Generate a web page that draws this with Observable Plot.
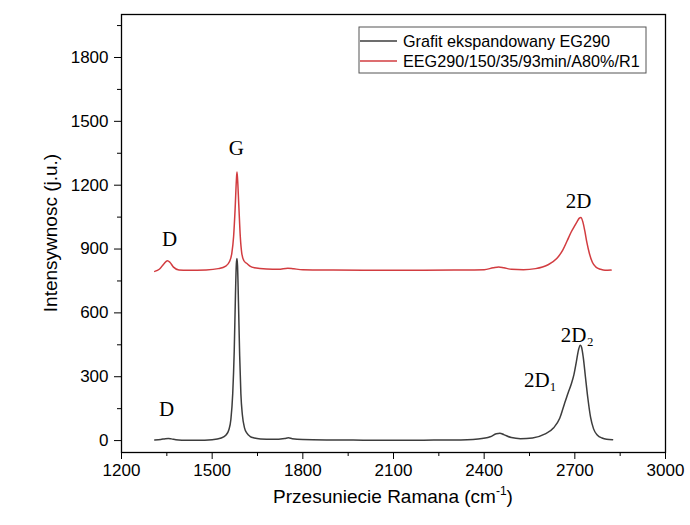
<!DOCTYPE html>
<html><head><meta charset="utf-8">
<script src="https://cdn.jsdelivr.net/npm/d3@7"></script>
<script src="https://cdn.jsdelivr.net/npm/@observablehq/plot@0.6"></script>
<style>body{margin:0;background:#fff}#chart{width:690px;height:525px}</style>
</head><body><div id="chart"></div>
<script>
// Raman shift (cm^-1) and intensity for each series
const egShift = [1310,1330,1345,1355,1365,1380,1400,1450,1500,1530,1545,1555,1562,1568,1573,1577,1580,1582,1584,1587,1591,1595,1600,1607,1615,1625,1640,1660,1700,1740,1752,1765,1800,1900,2000,2100,2200,2300,2380,2420,2440,2452,2465,2490,2520,2560,2600,2630,2650,2665,2678,2688,2697,2705,2712,2718,2722,2728,2735,2743,2752,2762,2775,2790,2805,2825];
const egInt   = [3,5,9,10,8,4,2,1,4,12,25,50,100,220,420,680,830,855,820,650,400,220,120,60,35,20,12,8,6,10,13,9,5,3,2,1,2,3,8,18,32,35,28,14,9,12,30,60,105,170,225,265,310,370,425,448,440,390,300,200,110,55,25,12,6,4];
const eegShift = [1310,1325,1340,1352,1360,1372,1390,1420,1480,1520,1545,1557,1565,1571,1576,1580,1582,1584,1588,1593,1598,1605,1615,1625,1640,1680,1720,1750,1770,1800,1900,2000,2100,2200,2300,2400,2430,2448,2465,2490,2530,2570,2610,2640,2660,2675,2688,2698,2708,2715,2720,2726,2733,2740,2748,2758,2770,2785,2800,2820];
const eegInt   = [795,805,830,845,838,815,802,800,802,808,820,840,880,960,1090,1220,1262,1230,1110,960,880,845,832,820,812,806,805,810,807,803,801,800,800,800,801,803,812,816,812,805,803,808,825,855,895,940,980,1005,1030,1045,1048,1030,985,930,880,838,815,805,800,801];
const seriesNames = ["Grafit ekspandowany EG290", "EEG290/150/35/93min/A80%/R1"];
const seriesColors = ["#3d3d3d", "#d23c40"];
// peak annotations
const annoText  = ["D", "G", "2D", "D", "2D\u2082", "2D\u2081"];
const annoShift = [1359, 1580, 2712, 1349, 2708, 2586];
const annoInt   = [944, 1372, 1125, 146, 493, 282];
// ticks
const xTicks = [1200,1500,1800,2100,2400,2700,3000];
const xMinor = [1350,1650,1950,2250,2550,2850];
const yTicks = [0,300,600,900,1200,1500,1800];
const yMinor = [150,450,750,1050,1350,1650,1950];

const eg = egShift.map((x,i)=>({x, y: egInt[i]}));
const eeg = eegShift.map((x,i)=>({x, y: eegInt[i]}));
const annos = annoText.map((t,i)=>({t, x: annoShift[i], y: annoInt[i]}));

const plot = Plot.plot({
  width: 690, height: 525,
  marginLeft: 121, marginRight: 25, marginTop: 14, marginBottom: 73,
  x: {domain: [1200, 3000]},
  y: {domain: [-56, 2002]},
  style: {fontFamily: "'Liberation Sans', Arial, sans-serif", fontSize: "17px", color: "#000", background: "#fff"},
  marks: [
    Plot.axisX({ticks: xTicks, tickSize: 7, tickPadding: 4, label: null, tickFormat: d => String(d), fontSize: 17}),
    Plot.axisX({ticks: xMinor, tickSize: 4, text: null, label: null}),
    Plot.axisY({ticks: yTicks, tickSize: 7, tickPadding: 6, label: null, tickFormat: d => String(d), fontSize: 17}),
    Plot.axisY({ticks: yMinor, tickSize: 4, text: null, label: null}),
    Plot.line(eg, {x: "x", y: "y", stroke: seriesColors[0], strokeWidth: 1.5, curve: "monotone-x"}),
    Plot.line(eeg, {x: "x", y: "y", stroke: seriesColors[1], strokeWidth: 1.5, curve: "monotone-x"}),
    Plot.text(annos, {x: "x", y: "y", text: "t", fontFamily: "'Liberation Serif', 'Times New Roman', serif", fontSize: 21, fill: "#000"}),
    Plot.frame({stroke: "#000", strokeWidth: 1.3})
  ]
});
document.getElementById("chart").appendChild(plot);

const svg = d3.select(plot);
// axis titles
svg.append("text")
  .attr("transform", "translate(52,233) rotate(-90)")
  .attr("text-anchor", "middle").attr("dominant-baseline", "middle")
  .style("font-family", "'Liberation Sans', Arial, sans-serif").style("font-size", "19px")
  .text("Intensywnosc (j.u.)");
const xt = svg.append("text")
  .attr("x", 393).attr("y", 503).attr("text-anchor", "middle")
  .style("font-family", "'Liberation Sans', Arial, sans-serif").style("font-size", "19px");
xt.append("tspan").text("Przesuniecie Ramana (cm");
xt.append("tspan").attr("dy", -8).style("font-size", "12px").text("-1");
xt.append("tspan").attr("dy", 8).text(")");

// legend
const lg = svg.append("g");
lg.append("rect").attr("x", 359).attr("y", 27).attr("width", 287).attr("height", 46)
  .attr("fill", "#fff").attr("stroke", "#555").attr("stroke-width", 1);
seriesNames.forEach((name, i) => {
  const y = 41 + i * 20;
  lg.append("line").attr("x1", 360).attr("x2", 397).attr("y1", y).attr("y2", y)
    .attr("stroke", seriesColors[i]).attr("stroke-width", 1.6);
  lg.append("text").attr("x", 403).attr("y", y + 6)
    .attr("text-anchor", "start")
    .style("text-anchor", "start")
    .style("font-family", "'Liberation Sans', Arial, sans-serif").style("font-size", "16.2px")
    .text(name);
});
</script>
</body></html>
